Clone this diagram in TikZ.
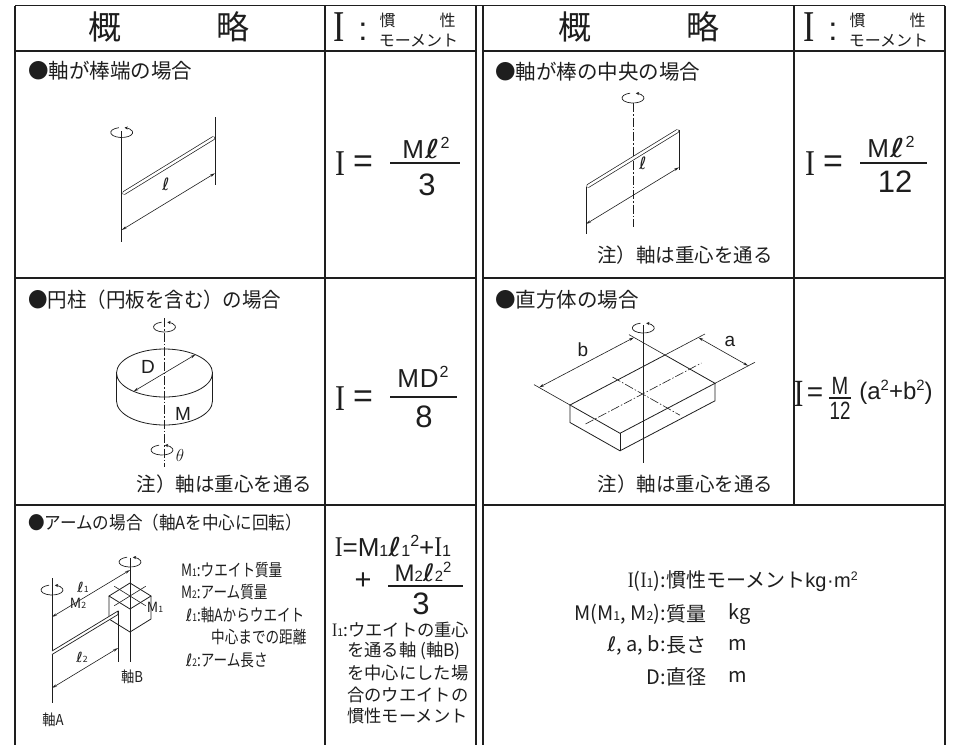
\documentclass[tikz,border=0pt]{standalone}
\usepackage{fontspec}
\usepackage{graphicx}
\usetikzlibrary{arrows.meta,calc}
\newfontfamily\jp{Noto Sans CJK JP}
\newfontfamily\lat{Liberation Sans}
\newfontfamily\serif{Liberation Serif}
\newfontfamily\dv{DejaVu Sans}
\newcommand\fs[1]{\fontsize{#1}{#1}\selectfont}
\newcommand\ELL[1][1.35]{{\dv\scalebox{#1}[1]{ℓ}}}
\newcommand\SUP[1]{\raisebox{0.36em}{\scalebox{0.62}{#1}}}
\newcommand\SUB[1]{\scalebox{0.62}{#1}}
\newcommand\RI[1][0.9]{{\serif\scalebox{#1}[1.1]{I}}}
\definecolor{ink}{HTML}{1E1E1E}
\begin{document}
\begin{tikzpicture}[x=1pt,y=-1pt,
  tbl/.style={line width=1.2pt,draw=ink},
  ln/.style={line width=0.8pt,draw=ink},
  dimline/.style={line width=0.6pt,draw=ink,{Stealth[length=5pt,width=2.6pt,open]}-{Stealth[length=5pt,width=2.6pt,open]}},
  axisdd/.style={line width=0.7pt,draw=ink,dash pattern=on 9pt off 2pt on 1.5pt off 2pt},
  txt/.style={inner sep=0pt,text=ink},
  rodstyle/.style={double=white,double distance=2.4pt,line width=0.7pt,draw=ink,line cap=round},
  rotsym/.pic={\draw[line width=0.7pt,draw=ink,-{Stealth[length=3.2pt,width=3.2pt]}] (105:11pt and 5pt) arc[start angle=105,end angle=435,x radius=11pt,y radius=5pt];}
]
\useasboundingbox (0,0) rectangle (953,745);
\fill[white] (0,0) rectangle (953,745);

% ---------- table ----------
\draw[tbl] (15,5.5) -- (945,5.5);
\foreach \x in {15,325,476,483,945} {\draw[tbl] (\x,5.5) -- (\x,745);}
\draw[tbl] (794,5.5) -- (794,505);
\foreach \y in {51,278,505} {\draw[tbl] (15,\y) -- (476,\y) (483,\y) -- (945,\y);}

% ---------- header ----------
\node[txt,font=\jp\fs{33}] (hA1) at (105,27) {概};
\node[txt,font=\jp\fs{33}] (hA2) at (233,27) {略};
\node[txt,font=\fs{40}] (hAI) at (339.5,27.5) {\RI[0.85]};
\node[txt,font=\lat\fs{33}] (hAc) at (363,31.5) {:};
\node[txt,font=\jp\fs{16}] (hAk) at (387.5,20) {慣};
\node[txt,font=\jp\fs{16}] (hAs) at (447.5,20) {性};
\node[txt,font=\jp\fs{16}] (hAm) at (418.5,40.5) {モーメント};

\node[txt,font=\jp\fs{33}] (hB1) at (575,27) {概};
\node[txt,font=\jp\fs{33}] (hB2) at (703,27) {略};
\node[txt,font=\fs{40}] (hBI) at (809,27.5) {\RI[0.85]};
\node[txt,font=\lat\fs{33}] (hBc) at (833,31.5) {:};
\node[txt,font=\jp\fs{16}] (hBk) at (857.5,20) {慣};
\node[txt,font=\jp\fs{16}] (hBs) at (917.5,20) {性};
\node[txt,font=\jp\fs{16}] (hBm) at (888.5,40.5) {モーメント};

% ---------- titles ----------
\node[txt,font=\jp\fs{20.5},anchor=west] (t1) at (28,71) {●軸が棒端の場合};
\node[txt,font=\jp\fs{20.5},anchor=west] (t2) at (495,72) {●軸が棒の中央の場合};
\node[txt,font=\jp\fs{20.5},anchor=west] (t3) at (28,300) {\scalebox{0.95}[1]{●円柱（円板を含む）の場合}};
\node[txt,font=\jp\fs{20.5},anchor=west] (t4) at (495,300) {●直方体の場合};
\node[txt,font=\jp\fs{18},anchor=west] (t5) at (28,523) {\scalebox{0.92}[1]{●アームの場合（軸Aを中心に回転）}};

% ---------- notes ----------
\node[txt,font=\jp\fs{19.5}] (n1) at (685,255) {注）軸は重心を通る};
\node[txt,font=\jp\fs{19.5}] (n2) at (224.5,484) {注）軸は重心を通る};
\node[txt,font=\jp\fs{19.5}] (n3) at (685.5,484) {注）軸は重心を通る};

% ---------- formulas ----------
% row 1 left
\node[txt,font=\fs{33}] (f1I) at (340,164) {\RI};
\node[txt,font=\lat\fs{34}] (f1e) at (363,164) {=};
\draw[line width=1.8pt,draw=ink] (390,163) -- (460,163);
\node[txt,font=\lat\fs{26}] (f1n) at (426,148) {M\kern1pt\ELL\kern1pt\SUP{2}};
\node[txt,font=\lat\fs{31}] (f1d) at (427,185) {3};
% row 1 right
\node[txt,font=\fs{33}] (f2I) at (810,164) {\RI};
\node[txt,font=\lat\fs{34}] (f2e) at (833,164) {=};
\draw[line width=1.8pt,draw=ink] (860,163) -- (927,163);
\node[txt,font=\lat\fs{26}] (f2n) at (891,147) {M\kern1pt\ELL\kern1pt\SUP{2}};
\node[txt,font=\lat\fs{31}] (f2d) at (895,182) {12};
% row 2 left
\node[txt,font=\fs{33}] (f3I) at (340,399) {\RI};
\node[txt,font=\lat\fs{34}] (f3e) at (363,399) {=};
\draw[line width=1.8pt,draw=ink] (390,397) -- (457,397);
\node[txt,font=\lat\fs{26}] (f3n) at (423,377) {M\kern1pt D\kern1pt\SUP{2}};
\node[txt,font=\lat\fs{31}] (f3d) at (424,417) {8};
% row 2 right
\node[txt,font=\fs{35}] (f4I) at (799,394) {\RI[0.8]};
\node[txt,font=\lat\fs{28}] (f4e) at (815,395) {=};
\node[txt,font=\lat\fs{25}] (f4n) at (840,386) {\scalebox{0.8}[1]{M}};
\draw[line width=1.5pt,draw=ink] (829,398) -- (851,398);
\node[txt,font=\lat\fs{25}] (f4d) at (840,411) {\scalebox{0.75}[1]{12}};
\node[txt,font=\lat\fs{24}] (f4p) at (896,392) {(a\SUP{2}+b\SUP{2})};
% row 3
\node[txt,font=\lat\fs{26}] (f5a) at (393,546) {\RI=M\SUB{1}\ELL[1.2]\SUB{1}\SUP{2}+\RI\SUB{1}};
\node[txt,font=\lat\fs{29}] (f5p) at (363,581) {+};
\node[txt,font=\lat\fs{24}] (f5n) at (423,572) {M\SUB{2}\ELL[1.2]\SUB{2}\SUP{2}};
\draw[line width=1.8pt,draw=ink] (388,586) -- (463,586);
\node[txt,font=\lat\fs{31}] (f5d) at (421,604) {3};
\node[txt,font=\jp\fs{17.3},anchor=west] (d1) at (332,630) {\RI\SUB{1}:ウエイトの重心};
\node[txt,font=\jp\fs{17.3},anchor=west] (d2) at (347,651) {を通る軸 (軸B)};
\node[txt,font=\jp\fs{17.3},anchor=west] (d3) at (347,673) {を中心にした場};
\node[txt,font=\jp\fs{17.3},anchor=west] (d4) at (347,695) {合のウエイトの};
\node[txt,font=\jp\fs{17.3},anchor=west] (d5) at (347,716) {慣性モーメント};

% ---------- legend (merged cell) ----------
\node[txt,font=\jp\fs{20},anchor=east] (g1a) at (666,581) {\RI(\RI\SUB{1}):};
\node[txt,font=\jp\fs{20},anchor=west] (g1b) at (666,581) {慣性モーメント{\lat kg\kern0.5pt·\kern0.5pt m\SUP{2}}};
\node[txt,font=\jp\fs{20},anchor=east] (g2a) at (666,614) {M(M\SUB{1}, M\SUB{2}):};
\node[txt,font=\jp\fs{20},anchor=west] (g2b) at (666,614) {質量};
\node[txt,font=\jp\fs{20},anchor=west] (g2c) at (728,614) {kg};
\node[txt,font=\jp\fs{20},anchor=east] (g3a) at (666,645) {\ELL[1.1], a, b:};
\node[txt,font=\jp\fs{20},anchor=west] (g3b) at (666,645) {長さ};
\node[txt,font=\jp\fs{20},anchor=west] (g3c) at (728,645) {m};
\node[txt,font=\jp\fs{20},anchor=east] (g4a) at (666,677) {D:};
\node[txt,font=\jp\fs{20},anchor=west] (g4b) at (666,677) {直径};
\node[txt,font=\jp\fs{20},anchor=west] (g4c) at (728,677) {m};

% ---------- row 3 left descriptions ----------
\node[txt,font=\jp\fs{17},anchor=west] (e1) at (181,570) {\scalebox{0.8}[1]{M\SUB{1}:ウエイト質量}};
\node[txt,font=\jp\fs{17},anchor=west] (e2) at (181,592) {\scalebox{0.8}[1]{M\SUB{2}:アーム質量}};
\node[txt,font=\jp\fs{17},anchor=west] (e3) at (186,615) {\scalebox{0.8}[1]{\ELL[1.1]\SUB{1}:軸Aからウエイト}};
\node[txt,font=\jp\fs{17},anchor=west] (e4) at (211,637) {\scalebox{0.8}[1]{中心までの距離}};
\node[txt,font=\jp\fs{17},anchor=west] (e5) at (186,660) {\scalebox{0.8}[1]{\ELL[1.1]\SUB{2}:アーム長さ}};

% ---------- drawing row 1 left ----------
\draw[ln] (121.7,131) -- (121.7,242);
\pic at (121.7,132.5) {rotsym};
\draw[rodstyle] (124,193) -- (213.5,138);
\draw[ln] (215,117) -- (215,185);
\draw[dimline] (121.7,230) -- (215,173.2);
\node[txt,font=\dv\fs{17}] (l1) at (166,184) {ℓ};

% ---------- drawing row 1 right ----------
\draw[axisdd] (633,103) -- (633,227);
\pic at (633,98) {rotsym};
\draw[rodstyle] (588,186) -- (677.5,131);
\draw[ln] (586,187) -- (586,234);
\draw[ln] (679,130) -- (679,170);
\draw[dimline] (586,224) -- (679,167.3);
\node[txt,font=\dv\fs{17}] (l2) at (643,163) {ℓ};

% ---------- drawing row 2 left (cylinder) ----------
\draw[axisdd] (164.5,318) -- (164.5,467);
\draw[ln] (164.5,373) ellipse[x radius=48pt,y radius=24pt];
\draw[ln] (116.5,373) -- (116.5,401) arc[start angle=180,end angle=360,x radius=48pt,y radius=24pt] -- (212.5,373);
\draw[dimline] (133.6,391.4) -- (195.4,354.6);
\pic at (164.5,327) {rotsym};
\pic at (162,450) {rotsym};
\node[txt,font=\lat\fs{19}] (lD) at (148,367) {D};
\node[txt,font=\lat\fs{19}] (lM) at (183,414) {M};
\node[txt,font=\fs{17}] (lth) at (180,455) {$\theta$};

% ---------- drawing row 2 right (box) ----------
\coordinate (L) at (570,405);
\coordinate (F) at (620,433.3);
\coordinate (R) at (715,383.3);
\coordinate (B) at (665,355);
\coordinate (C) at (642.5,394);
\draw[ln] (L) -- (F) -- (R) -- (B) -- cycle;
\draw[ln] (L) -- ++(0,17.5) -- ($(F)+(0,17.5)$) -- ($(R)+(0,17.5)$) -- (R);
\draw[ln] (F) -- ++(0,17.5);
% extension lines
\draw[line width=0.6pt,draw=ink] (L) -- ($(L)-0.72*(50,28.3)$);
\draw[line width=0.6pt,draw=ink] (B) -- ($(B)-0.72*(50,28.3)$);
\draw[line width=0.6pt,draw=ink] (B) -- ($(B)+0.42*(95,-50)$);
\draw[line width=0.6pt,draw=ink] (R) -- ($(R)+0.42*(95,-50)$);
\draw[dimline] ($(L)-0.62*(50,28.3)$) -- ($(B)-0.62*(50,28.3)$);
\draw[dimline] ($(B)+0.35*(95,-50)$) -- ($(R)+0.35*(95,-50)$);
% centre lines
\draw[axisdd,line width=0.6pt] ($(C)-0.6*(95,-50)$) -- ($(C)+0.62*(95,-50)$);
\draw[axisdd,line width=0.6pt] ($(C)-0.6*(50,28.3)$) -- ($(C)+0.75*(50,28.3)$);
\draw[ln] (643.3,325) -- (643.3,463);
\pic at (643.3,328) {rotsym};
\node[txt,font=\lat\fs{19}] (lb) at (583,350) {b};
\node[txt,font=\lat\fs{19}] (la) at (730,341) {a};

% ---------- drawing row 3 left (arm) ----------
\draw[ln] (52,578) -- (52,703);
\pic at (52,590) {rotsym};
\draw[ln] (130,558) -- (130,662);
\pic at (130,562) {rotsym};
% cube
\draw[ln] (109,596) -- (130,609) -- (151,596) -- (130,583) -- cycle;
\draw[ln] (109,596) -- (109,619) -- (130,632) -- (151,619) -- (151,596);
\draw[ln] (130,609) -- (130,632);
\draw[line width=0.6pt,draw=ink] (114.25,605.75) -- (145.75,586.25);
\draw[line width=0.6pt,draw=ink] (114.25,586.25) -- (145.75,605.75);
% arm
\draw[ln,line width=0.7pt,fill=white] (52,651) -- (118,611) -- (118,614.5) -- (52,654.5);
\draw[ln] (118,611) -- (118,662);
% dimensions
\draw[dimline] (52,617) -- (130,570);
\draw[dimline] (52,688) -- (118,648);
\node[txt,font=\jp\fs{14}] (a1) at (83,587) {\ELL[1.1]\SUB{1}};
\node[txt,font=\jp\fs{14}] (a2) at (78,603) {M\SUB{2}};
\node[txt,font=\jp\fs{14}] (a3) at (155,607) {M\SUB{1}};
\node[txt,font=\jp\fs{14}] (a4) at (82,657) {\ELL[1.1]\SUB{2}};
\node[txt,font=\jp\fs{15}] (a5) at (132,677) {\scalebox{0.88}[1]{軸B}};
\node[txt,font=\jp\fs{15}] (a6) at (53,720) {\scalebox{0.88}[1]{軸A}};
\end{tikzpicture}
\end{document}
